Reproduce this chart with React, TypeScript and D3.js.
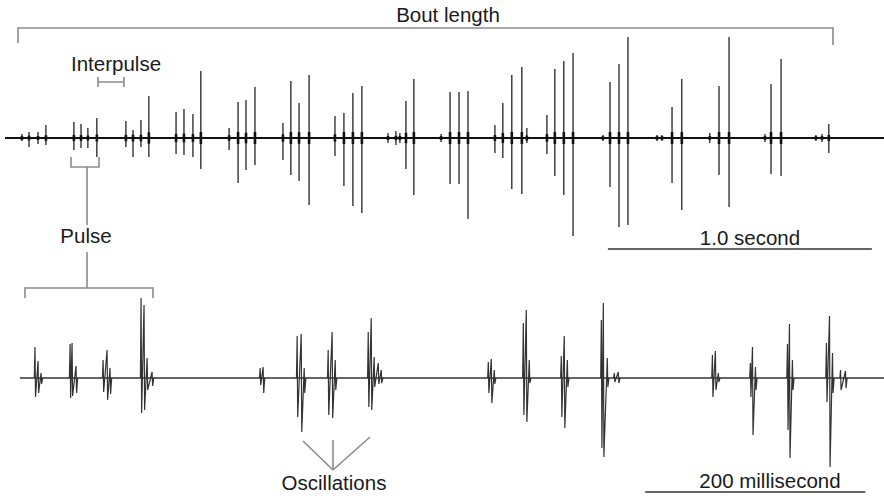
import React from "react";
import * as d3 from "d3";

// top trace: whole bout, spike times in ms and peak amplitudes (relative units)
const TOP_T = [
  64, 91, 125, 155, 261, 288, 314, 348, 458, 485, 515, 545, 648, 678, 712, 742,
  849, 883, 913, 947, 1053, 1083, 1114, 1152, 1250, 1284, 1318, 1352,
  1451, 1481, 1496, 1519, 1549, 1652, 1686, 1720, 1754, 1856, 1886, 1920, 1958, 1977,
  2053, 2083, 2117, 2152, 2265, 2292, 2326, 2360, 2470, 2489, 2527, 2564,
  2670, 2705, 2743, 2879, 2902, 2940, 3072, 3095, 3121,
];
const TOP_UP = [
  0.04, 0.06, 0.06, 0.13, 0.16, 0.14, 0.1, 0.2, 0.17, 0.08, 0.18, 0.42, 0.26, 0.29, 0.24, 0.67,
  0.1, 0.36, 0.38, 0.51, 0.15, 0.57, 0.35, 0.63, 0.22, 0.25, 0.45, 0.52,
  0.05, 0.07, 0.05, 0.37, 0.59, 0.04, 0.46, 0.46, 0.47, 0.13, 0.35, 0.63, 0.71, 0.1,
  0.23, 0.69, 0.77, 0.85, 0.03, 0.56, 0.74, 1.01, 0.03, 0.03, 0.31, 0.59,
  0.05, 0.52, 1.01, 0.04, 0.54, 0.79, 0.03, 0.04, 0.14,
];
const TOP_DOWN = [
  0.03, 0.09, 0.06, 0.07, 0.12, 0.1, 0.1, 0.19, 0.09, 0.19, 0.09, 0.19, 0.16, 0.17, 0.19, 0.31,
  0.12, 0.45, 0.32, 0.27, 0.22, 0.37, 0.43, 0.67, 0.18, 0.48, 0.68, 0.75,
  0.05, 0.07, 0.05, 0.31, 0.57, 0.04, 0.46, 0.46, 0.81, 0.15, 0.2, 0.51, 0.56, 0.05,
  0.16, 0.38, 0.57, 0.98, 0.03, 0.49, 0.89, 0.87, 0.03, 0.03, 0.45, 0.72,
  0.05, 0.37, 0.69, 0.04, 0.36, 0.38, 0.03, 0.04, 0.15,
];

// bottom trace: expanded view, oscillation cycles (ms, up, down)
const BOT_T = [
  13.6, 16.4, 19.1, 45.5, 47.3, 50.9, 75.5, 79.1, 81.8, 110, 112.7, 115.5, 120,
  218.2, 220.9, 251.8, 255.5, 258.2, 280, 283.6, 286.4, 316.4, 319.1, 321.8, 325.5, 328.2,
  425.5, 428.2, 430.9, 457.3, 460, 462.7, 491.8, 494.5, 497.3, 528.2, 530, 533.6, 540, 543.6,
  629.1, 631.8, 634.5, 663.6, 665.5, 668.2, 697.3, 699.1, 701.8, 732.7, 735.5, 738.2, 745.5, 750,
];
const BOT_UP = [
  0.31, 0.17, 0.05, 0.34, 0.35, 0.12, 0.18, 0.28, 0.1, 0.8, 0.73, 0.2, 0.06,
  0.1, 0.11, 0.42, 0.44, 0.1, 0.28, 0.46, 0.18, 0.46, 0.6, 0.21, 0.15, 0.08,
  0.16, 0.19, 0.08, 0.55, 0.68, 0.18, 0.22, 0.42, 0.18, 0.58, 0.75, 0.2, 0.05, 0.06,
  0.23, 0.27, 0.05, 0.15, 0.31, 0.11, 0.34, 0.54, 0.18, 0.35, 0.62, 0.25, 0.08, 0.07,
];
const BOT_DOWN = [
  0.19, 0.15, 0.06, 0.2, 0.18, 0.15, 0.14, 0.22, 0.16, 0.35, 0.32, 0.12, 0.08,
  0.07, 0.15, 0.39, 0.54, 0.15, 0.37, 0.4, 0.12, 0.29, 0.32, 0.09, 0.06, 0.05,
  0.15, 0.25, 0.06, 0.37, 0.44, 0.05, 0.39, 0.5, 0.09, 0.7, 0.79, 0.09, 0.04, 0.05,
  0.19, 0.12, 0.04, 0.19, 0.57, 0.12, 0.52, 0.8, 0.12, 0.24, 0.89, 0.15, 0.12, 0.1,
];

const TOP_SPAN = [0, 3330];
const BOT_SPAN = [0, 785];
const TOP_SCALEBAR = [2284, 3284]; // 1.0 second
const BOT_SCALEBAR = [568, 768]; // 200 ms

const W = 884;
const H = 496;
const font = "'Liberation Sans', Arial, sans-serif";
const gray = "#8c8c8c";

export default function App() {
  const xTop = d3.scaleLinear().domain(TOP_SPAN).range([5, 884]);
  const yTop = d3.scaleLinear().domain([-1, 1]).range([238, 38]);
  const xBot = d3.scaleLinear().domain(BOT_SPAN).range([20, 884]);
  const yBot = d3.scaleLinear().domain([-1, 1]).range([478, 278]);

  // group bottom cycles into pulses (gap > 5 ms starts a new pulse)
  const pulses: [number, number, number][][] = [];
  BOT_T.forEach((t, i) => {
    const c: [number, number, number] = [t, BOT_UP[i], BOT_DOWN[i]];
    if (i === 0 || t - BOT_T[i - 1] > 5) pulses.push([c]);
    else pulses[pulses.length - 1].push(c);
  });

  const line = d3
    .line<[number, number]>()
    .x((d) => xBot(d[0]))
    .y((d) => yBot(d[1]));

  const pulsePath = (p: [number, number, number][]) => {
    const pts: [number, number][] = [[p[0][0] - 0.6, 0]];
    p.forEach(([t, u, d]) => {
      pts.push([t, u]);
      pts.push([t + 0.5, -d]);
    });
    pts.push([p[p.length - 1][0] + 1.5, 0]);
    return line(pts) || "";
  };

  return (
    <svg
      width={W}
      height={H}
      style={{ position: "absolute", left: 0, top: 0, background: "#fff" }}
      fontFamily={font}
    >
      {/* annotations */}
      <g stroke={gray} strokeWidth={1.6} fill="none">
        <path d="M18,43 V28 H833 V45" />
        <path d="M98,77 V87 M98,82 H124 M124,77 V87" />
        <path d="M71,157 V167 H99 V157 M87,167 V225" />
        <path d="M87,252 V288 M25,298 V288 H153 V298" />
        <path d="M333,470 L303,441 M333,470 L333,440 M333,470 L370,437" />
      </g>
      <g fill="#1a1a1a" fontSize={20.5}>
        <text x={448} y={22} textAnchor="middle">Bout length</text>
        <text x={71} y={71}>Interpulse</text>
        <text x={86} y={243} textAnchor="middle">Pulse</text>
        <text x={750} y={245} textAnchor="middle">1.0 second</text>
        <text x={334} y={490} textAnchor="middle">Oscillations</text>
        <text x={770} y={488} textAnchor="middle">200 millisecond</text>
      </g>

      {/* scale bars */}
      <g stroke="#333" strokeWidth={1.6}>
        <line x1={xTop(TOP_SCALEBAR[0])} x2={xTop(TOP_SCALEBAR[1])} y1={249} y2={249} />
        <line x1={xBot(BOT_SCALEBAR[0])} x2={xBot(BOT_SCALEBAR[1])} y1={492} y2={492} />
      </g>

      {/* top trace */}
      <line x1={xTop(TOP_SPAN[0])} x2={xTop(TOP_SPAN[1])} y1={yTop(0)} y2={yTop(0)} stroke="#111" strokeWidth={2.2} />
      <g stroke="#111">
        {TOP_T.map((t, i) => {
          const core = Math.min(0.06, 0.1 * Math.max(TOP_UP[i], TOP_DOWN[i]) + 0.015);
          return (
            <g key={i}>
              <line x1={xTop(t)} x2={xTop(t)} y1={yTop(TOP_UP[i])} y2={yTop(-TOP_DOWN[i])} strokeWidth={1.2} />
              <line x1={xTop(t)} x2={xTop(t)} y1={yTop(core)} y2={yTop(-core)} strokeWidth={2.6} />
            </g>
          );
        })}
      </g>

      {/* bottom trace */}
      <line x1={xBot(BOT_SPAN[0])} x2={xBot(BOT_SPAN[1])} y1={yBot(0)} y2={yBot(0)} stroke="#333" strokeWidth={1.6} />
      <g stroke="#333" strokeWidth={1.2} fill="none">
        {pulses.map((p, i) => (
          <path key={i} d={pulsePath(p)} />
        ))}
      </g>
    </svg>
  );
}
